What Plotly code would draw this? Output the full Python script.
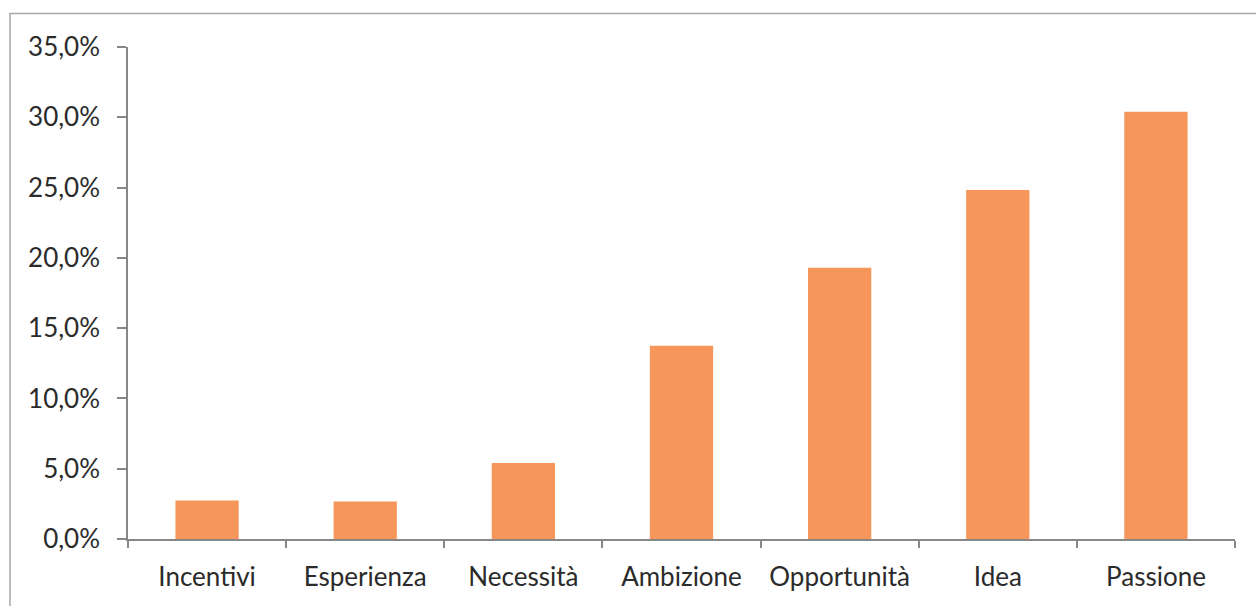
import plotly.graph_objects as go

# Motivazioni per l'avvio dell'impresa (quota percentuale)
categorie = ["Incentivi", "Esperienza", "Necessità", "Ambizione",
             "Opportunità", "Idea", "Passione"]
percentuali = [2.74, 2.67, 5.4, 13.75, 19.29, 24.83, 30.4]
tick_valori = [0, 5, 10, 15, 20, 25, 30, 35]
tick_testi = [f"{v:.1f}%".replace(".", ",") for v in tick_valori]

ARANCIO = "#F6965A"
GRIGIO = "#878787"
TESTO = "#2b2b2b"
FONT = "Lato"
DIM = 26

fig = go.Figure(
    go.Bar(
        x=categorie,
        y=percentuali,
        marker=dict(color=ARANCIO, line=dict(width=0)),
        width=0.4,
    )
)

fig.update_layout(
    width=1256,
    height=606,
    margin=dict(l=128, r=21, t=46.5, b=66.7),
    paper_bgcolor="white",
    plot_bgcolor="white",
    showlegend=False,
    font=dict(family=FONT, size=DIM, color=TESTO),
    xaxis=dict(
        type="category",
        showline=True,
        linecolor=GRIGIO,
        linewidth=1.5,
        ticks="outside",
        tickson="boundaries",
        ticklen=7,
        tickcolor=GRIGIO,
        tickwidth=1.5,
        showgrid=False,
        zeroline=False,
        ticklabelstandoff=14,
        tickfont=dict(family=FONT, size=DIM, color=TESTO),
    ),
    yaxis=dict(
        range=[0, 35],
        tickvals=tick_valori,
        ticktext=tick_testi,
        showline=True,
        linecolor=GRIGIO,
        linewidth=1.5,
        ticks="outside",
        ticklen=9,
        tickcolor=GRIGIO,
        tickwidth=1.5,
        showgrid=False,
        zeroline=False,
        ticklabelstandoff=12,
        tickfont=dict(family=FONT, size=DIM, color=TESTO),
    ),
    shapes=[
        # cornice esterna del grafico
        dict(
            type="rect",
            xref="paper",
            yref="paper",
            x0=-0.1066,
            x1=1.05,
            y0=-0.2,
            y1=1.068,
            line=dict(color="#A6A6A6", width=1.5),
            fillcolor="rgba(0,0,0,0)",
            layer="below",
        )
    ],
)

fig.write_html("out.html")
